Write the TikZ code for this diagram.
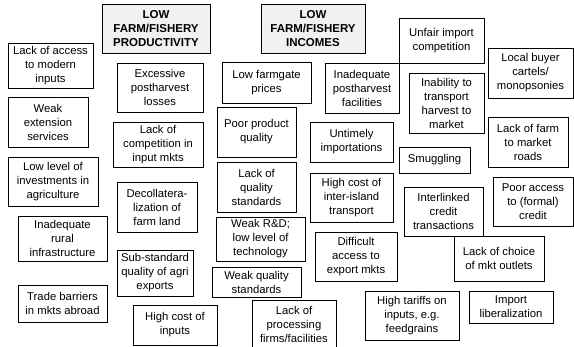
\documentclass[tikz,border=0pt]{standalone}
\usepackage{fontspec}
\setmainfont{Liberation Sans}
\begin{document}
\begin{tikzpicture}[x=1pt,y=-1pt,
  box/.style={draw=black, line width=0.8pt, fill=white, align=center, inner sep=1pt, outer sep=0pt,
    font=\fontsize{11.3}{14}\selectfont},
  title/.style={box, fill=gray!11, font=\fontsize{11.5}{14}\selectfont\bfseries}]
\useasboundingbox (0,0) rectangle (574,347);
\newcommand{\bx}[7][box]{\node[#1, minimum width=#5, minimum height=#6] (#2) at (#3,#4) {#7};}
\bx[title]{t1}{156}{28.5}{108}{49}{LOW\\FARM/FISHERY\\PRODUCTIVITY}
\bx[title]{t2}{313}{28.5}{104}{49}{LOW\\FARM/FISHERY\\INCOMES}
\bx{a1}{50.5}{65.5}{85}{45}{Lack of access\\to modern\\inputs}
\bx{a2}{48}{122}{80}{50}{Weak\\extension\\services}
\bx{a3}{53}{181.5}{90}{49}{Low level of\\investments in\\agriculture}
\bx{a4}{62.5}{238.5}{89}{45}{Inadequate\\rural\\infrastructure}
\bx{a5}{62.5}{303.5}{89}{37}{Trade barriers\\in mkts abroad}
\bx{b1}{160}{87.5}{86}{49}{Excessive\\postharvest\\losses}
\bx{b2}{158}{144.5}{90}{45}{Lack of\\competition in\\input mkts}
\bx{b3}{157}{207}{80}{50}{Decollatera-\\lization of\\farm land}
\bx{b4}{155}{273}{76}{46}{Sub-standard\\quality of agri\\exports}
\bx{b5}{175}{325}{84}{40}{High cost of\\inputs}
\bx{c1}{266.5}{82.5}{89}{41}{Low farmgate\\prices}
\bx{c2}{256.5}{132}{79}{50}{Poor product\\quality}
\bx{c3}{256.5}{187}{79}{50}{Lack of\\quality\\standards}
\bx{c4}{260.5}{239}{89}{44}{Weak R\&D;\\low level of\\technology}
\bx{c5}{256.5}{282}{89}{30}{Weak quality\\standards}
\bx{c6}{294}{324.5}{84}{49}{Lack of\\processing\\firms/facilities}
\bx{d1}{362}{88}{74}{50}{Inadequate\\postharvest\\facilities}
\bx{d2}{351.5}{142}{83}{40}{Untimely\\importations}
\bx{d3}{351.5}{197.5}{83}{49}{High cost of\\inter-island\\transport}
\bx{d4}{356}{256.5}{82}{49}{Difficult\\access to\\export mkts}
\bx{e1}{441.5}{40.5}{85}{45}{Unfair import\\competition}
\bx{e2}{446.5}{103}{75}{60}{Inability to\\transport\\harvest to\\market}
\bx{f1}{530.5}{73}{85}{50}{Local buyer\\cartels/\\monopsonies}
\bx{e3}{434.5}{160}{71}{26}{Smuggling}
\bx{f2}{528}{142}{80}{50}{Lack of farm\\to market\\roads}
\bx{f3}{533}{201.5}{80}{49}{Poor access\\to (formal)\\credit}
\bx{e4}{443.5}{211.5}{79}{49}{Interlinked\\credit\\transactions}
\bx{e5}{499}{258.5}{90}{45}{Lack of choice\\of mkt outlets}
\bx{e6}{412}{315.5}{94}{49}{High tariffs on\\inputs, e.g.\\feedgrains}
\bx{e7}{511}{307}{84}{32}{Import\\liberalization}
\end{tikzpicture}
\end{document}
